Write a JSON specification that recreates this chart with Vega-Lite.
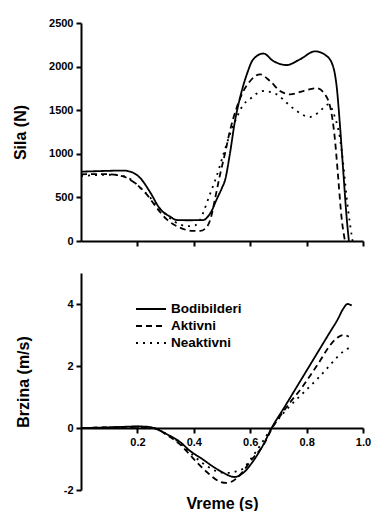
{
  "$schema": "https://vega.github.io/schema/vega-lite/v6.json",
  "padding": {"left": 12, "top": 17, "right": 0, "bottom": 0},
  "spacing": 26,
  "background": "white",
  "config": {
    "view": {"stroke": null},
    "font": "Liberation Sans",
    "axis": {
      "grid": false,
      "labelFont": "Liberation Sans",
      "labelFontWeight": "bold",
      "labelFontSize": 11,
      "labelColor": "black",
      "titleFont": "Liberation Sans",
      "titleFontWeight": "bold",
      "titleFontSize": 16,
      "titleColor": "black",
      "domainColor": "black",
      "domainWidth": 2,
      "tickColor": "black",
      "tickWidth": 2,
      "tickSize": 5,
      "labelPadding": 3,
      "labelFlush": false
    }
  },
  "datasets": {
    "sila": [
      {"vreme": 0, "grupa": "Bodibilderi", "sila": 795},
      {"vreme": 0.05, "grupa": "Bodibilderi", "sila": 800},
      {"vreme": 0.1, "grupa": "Bodibilderi", "sila": 805},
      {"vreme": 0.149, "grupa": "Bodibilderi", "sila": 808},
      {"vreme": 0.175, "grupa": "Bodibilderi", "sila": 795},
      {"vreme": 0.209, "grupa": "Bodibilderi", "sila": 726},
      {"vreme": 0.245, "grupa": "Bodibilderi", "sila": 560},
      {"vreme": 0.28, "grupa": "Bodibilderi", "sila": 370},
      {"vreme": 0.316, "grupa": "Bodibilderi", "sila": 280},
      {"vreme": 0.339, "grupa": "Bodibilderi", "sila": 241},
      {"vreme": 0.38, "grupa": "Bodibilderi", "sila": 238},
      {"vreme": 0.434, "grupa": "Bodibilderi", "sila": 240},
      {"vreme": 0.447, "grupa": "Bodibilderi", "sila": 270},
      {"vreme": 0.463, "grupa": "Bodibilderi", "sila": 344},
      {"vreme": 0.48, "grupa": "Bodibilderi", "sila": 470},
      {"vreme": 0.5, "grupa": "Bodibilderi", "sila": 610},
      {"vreme": 0.511, "grupa": "Bodibilderi", "sila": 700},
      {"vreme": 0.528, "grupa": "Bodibilderi", "sila": 1000},
      {"vreme": 0.546, "grupa": "Bodibilderi", "sila": 1376},
      {"vreme": 0.564, "grupa": "Bodibilderi", "sila": 1644},
      {"vreme": 0.588, "grupa": "Bodibilderi", "sila": 1911},
      {"vreme": 0.611, "grupa": "Bodibilderi", "sila": 2084},
      {"vreme": 0.647, "grupa": "Bodibilderi", "sila": 2150},
      {"vreme": 0.682, "grupa": "Bodibilderi", "sila": 2064},
      {"vreme": 0.729, "grupa": "Bodibilderi", "sila": 2018},
      {"vreme": 0.777, "grupa": "Bodibilderi", "sila": 2084},
      {"vreme": 0.83, "grupa": "Bodibilderi", "sila": 2175},
      {"vreme": 0.871, "grupa": "Bodibilderi", "sila": 2122},
      {"vreme": 0.895, "grupa": "Bodibilderi", "sila": 1990},
      {"vreme": 0.907, "grupa": "Bodibilderi", "sila": 1760},
      {"vreme": 0.918, "grupa": "Bodibilderi", "sila": 1340},
      {"vreme": 0.93, "grupa": "Bodibilderi", "sila": 800},
      {"vreme": 0.942, "grupa": "Bodibilderi", "sila": 270},
      {"vreme": 0.95, "grupa": "Bodibilderi", "sila": 0},
      {"vreme": 0, "grupa": "Aktivni", "sila": 765},
      {"vreme": 0.05, "grupa": "Aktivni", "sila": 768},
      {"vreme": 0.1, "grupa": "Aktivni", "sila": 765},
      {"vreme": 0.15, "grupa": "Aktivni", "sila": 740},
      {"vreme": 0.197, "grupa": "Aktivni", "sila": 650},
      {"vreme": 0.233, "grupa": "Aktivni", "sila": 535},
      {"vreme": 0.268, "grupa": "Aktivni", "sila": 382},
      {"vreme": 0.304, "grupa": "Aktivni", "sila": 248},
      {"vreme": 0.351, "grupa": "Aktivni", "sila": 153},
      {"vreme": 0.398, "grupa": "Aktivni", "sila": 115},
      {"vreme": 0.422, "grupa": "Aktivni", "sila": 115},
      {"vreme": 0.44, "grupa": "Aktivni", "sila": 140},
      {"vreme": 0.46, "grupa": "Aktivni", "sila": 260},
      {"vreme": 0.475, "grupa": "Aktivni", "sila": 480},
      {"vreme": 0.493, "grupa": "Aktivni", "sila": 760},
      {"vreme": 0.511, "grupa": "Aktivni", "sila": 1010},
      {"vreme": 0.528, "grupa": "Aktivni", "sila": 1261},
      {"vreme": 0.552, "grupa": "Aktivni", "sila": 1529},
      {"vreme": 0.576, "grupa": "Aktivni", "sila": 1720},
      {"vreme": 0.6, "grupa": "Aktivni", "sila": 1835},
      {"vreme": 0.635, "grupa": "Aktivni", "sila": 1911},
      {"vreme": 0.67, "grupa": "Aktivni", "sila": 1835},
      {"vreme": 0.706, "grupa": "Aktivni", "sila": 1720},
      {"vreme": 0.741, "grupa": "Aktivni", "sila": 1682},
      {"vreme": 0.788, "grupa": "Aktivni", "sila": 1720},
      {"vreme": 0.836, "grupa": "Aktivni", "sila": 1751},
      {"vreme": 0.865, "grupa": "Aktivni", "sila": 1682},
      {"vreme": 0.889, "grupa": "Aktivni", "sila": 1453},
      {"vreme": 0.901, "grupa": "Aktivni", "sila": 1147},
      {"vreme": 0.912, "grupa": "Aktivni", "sila": 726},
      {"vreme": 0.924, "grupa": "Aktivni", "sila": 268},
      {"vreme": 0.936, "grupa": "Aktivni", "sila": 0},
      {"vreme": 0, "grupa": "Neaktivni", "sila": 745},
      {"vreme": 0.05, "grupa": "Neaktivni", "sila": 755},
      {"vreme": 0.1, "grupa": "Neaktivni", "sila": 760},
      {"vreme": 0.15, "grupa": "Neaktivni", "sila": 745},
      {"vreme": 0.18, "grupa": "Neaktivni", "sila": 700},
      {"vreme": 0.21, "grupa": "Neaktivni", "sila": 610},
      {"vreme": 0.245, "grupa": "Neaktivni", "sila": 500},
      {"vreme": 0.28, "grupa": "Neaktivni", "sila": 370},
      {"vreme": 0.316, "grupa": "Neaktivni", "sila": 260},
      {"vreme": 0.35, "grupa": "Neaktivni", "sila": 190},
      {"vreme": 0.38, "grupa": "Neaktivni", "sila": 170},
      {"vreme": 0.405, "grupa": "Neaktivni", "sila": 180},
      {"vreme": 0.422, "grupa": "Neaktivni", "sila": 240},
      {"vreme": 0.434, "grupa": "Neaktivni", "sila": 330},
      {"vreme": 0.457, "grupa": "Neaktivni", "sila": 535},
      {"vreme": 0.48, "grupa": "Neaktivni", "sila": 735},
      {"vreme": 0.505, "grupa": "Neaktivni", "sila": 994},
      {"vreme": 0.528, "grupa": "Neaktivni", "sila": 1223},
      {"vreme": 0.552, "grupa": "Neaktivni", "sila": 1414},
      {"vreme": 0.575, "grupa": "Neaktivni", "sila": 1560},
      {"vreme": 0.6, "grupa": "Neaktivni", "sila": 1630},
      {"vreme": 0.623, "grupa": "Neaktivni", "sila": 1690},
      {"vreme": 0.647, "grupa": "Neaktivni", "sila": 1720},
      {"vreme": 0.694, "grupa": "Neaktivni", "sila": 1682},
      {"vreme": 0.729, "grupa": "Neaktivni", "sila": 1586},
      {"vreme": 0.765, "grupa": "Neaktivni", "sila": 1490},
      {"vreme": 0.812, "grupa": "Neaktivni", "sila": 1422},
      {"vreme": 0.842, "grupa": "Neaktivni", "sila": 1472},
      {"vreme": 0.877, "grupa": "Neaktivni", "sila": 1567},
      {"vreme": 0.901, "grupa": "Neaktivni", "sila": 1414},
      {"vreme": 0.918, "grupa": "Neaktivni", "sila": 1185},
      {"vreme": 0.93, "grupa": "Neaktivni", "sila": 880},
      {"vreme": 0.942, "grupa": "Neaktivni", "sila": 497},
      {"vreme": 0.954, "grupa": "Neaktivni", "sila": 191},
      {"vreme": 0.963, "grupa": "Neaktivni", "sila": 0}
    ],
    "brzina": [
      {"vreme": 0, "grupa": "Bodibilderi", "brzina": 0},
      {"vreme": 0.1, "grupa": "Bodibilderi", "brzina": 0.02},
      {"vreme": 0.2, "grupa": "Bodibilderi", "brzina": 0.05},
      {"vreme": 0.235, "grupa": "Bodibilderi", "brzina": 0.04},
      {"vreme": 0.257, "grupa": "Bodibilderi", "brzina": 0},
      {"vreme": 0.304, "grupa": "Bodibilderi", "brzina": -0.2},
      {"vreme": 0.351, "grupa": "Bodibilderi", "brzina": -0.45},
      {"vreme": 0.387, "grupa": "Bodibilderi", "brzina": -0.74},
      {"vreme": 0.43, "grupa": "Bodibilderi", "brzina": -1.0},
      {"vreme": 0.469, "grupa": "Bodibilderi", "brzina": -1.25},
      {"vreme": 0.5, "grupa": "Bodibilderi", "brzina": -1.42},
      {"vreme": 0.545, "grupa": "Bodibilderi", "brzina": -1.58},
      {"vreme": 0.575, "grupa": "Bodibilderi", "brzina": -1.45},
      {"vreme": 0.611, "grupa": "Bodibilderi", "brzina": -1.06},
      {"vreme": 0.647, "grupa": "Bodibilderi", "brzina": -0.53},
      {"vreme": 0.676, "grupa": "Bodibilderi", "brzina": 0},
      {"vreme": 0.72, "grupa": "Bodibilderi", "brzina": 0.65},
      {"vreme": 0.76, "grupa": "Bodibilderi", "brzina": 1.25},
      {"vreme": 0.8, "grupa": "Bodibilderi", "brzina": 1.85},
      {"vreme": 0.84, "grupa": "Bodibilderi", "brzina": 2.45},
      {"vreme": 0.88, "grupa": "Bodibilderi", "brzina": 3.05},
      {"vreme": 0.91, "grupa": "Bodibilderi", "brzina": 3.5},
      {"vreme": 0.93, "grupa": "Bodibilderi", "brzina": 3.85},
      {"vreme": 0.945, "grupa": "Bodibilderi", "brzina": 4.0},
      {"vreme": 0.96, "grupa": "Bodibilderi", "brzina": 3.95},
      {"vreme": 0, "grupa": "Aktivni", "brzina": 0},
      {"vreme": 0.1, "grupa": "Aktivni", "brzina": 0.02},
      {"vreme": 0.2, "grupa": "Aktivni", "brzina": 0.04},
      {"vreme": 0.25, "grupa": "Aktivni", "brzina": 0.01},
      {"vreme": 0.27, "grupa": "Aktivni", "brzina": -0.03},
      {"vreme": 0.3, "grupa": "Aktivni", "brzina": -0.2},
      {"vreme": 0.35, "grupa": "Aktivni", "brzina": -0.52},
      {"vreme": 0.38, "grupa": "Aktivni", "brzina": -0.8},
      {"vreme": 0.41, "grupa": "Aktivni", "brzina": -1.1},
      {"vreme": 0.45, "grupa": "Aktivni", "brzina": -1.45},
      {"vreme": 0.49, "grupa": "Aktivni", "brzina": -1.72},
      {"vreme": 0.515, "grupa": "Aktivni", "brzina": -1.77},
      {"vreme": 0.54, "grupa": "Aktivni", "brzina": -1.7},
      {"vreme": 0.57, "grupa": "Aktivni", "brzina": -1.45},
      {"vreme": 0.6, "grupa": "Aktivni", "brzina": -1.08},
      {"vreme": 0.65, "grupa": "Aktivni", "brzina": -0.5},
      {"vreme": 0.678, "grupa": "Aktivni", "brzina": 0},
      {"vreme": 0.7, "grupa": "Aktivni", "brzina": 0.3},
      {"vreme": 0.741, "grupa": "Aktivni", "brzina": 0.82},
      {"vreme": 0.783, "grupa": "Aktivni", "brzina": 1.3},
      {"vreme": 0.812, "grupa": "Aktivni", "brzina": 1.68},
      {"vreme": 0.85, "grupa": "Aktivni", "brzina": 2.2},
      {"vreme": 0.877, "grupa": "Aktivni", "brzina": 2.59},
      {"vreme": 0.91, "grupa": "Aktivni", "brzina": 2.92},
      {"vreme": 0.93, "grupa": "Aktivni", "brzina": 3.0},
      {"vreme": 0.95, "grupa": "Aktivni", "brzina": 2.95},
      {"vreme": 0, "grupa": "Neaktivni", "brzina": 0},
      {"vreme": 0.1, "grupa": "Neaktivni", "brzina": 0.02},
      {"vreme": 0.2, "grupa": "Neaktivni", "brzina": 0.04},
      {"vreme": 0.25, "grupa": "Neaktivni", "brzina": 0.01},
      {"vreme": 0.27, "grupa": "Neaktivni", "brzina": -0.03},
      {"vreme": 0.3, "grupa": "Neaktivni", "brzina": -0.18},
      {"vreme": 0.35, "grupa": "Neaktivni", "brzina": -0.48},
      {"vreme": 0.375, "grupa": "Neaktivni", "brzina": -0.69},
      {"vreme": 0.4, "grupa": "Neaktivni", "brzina": -0.9},
      {"vreme": 0.45, "grupa": "Neaktivni", "brzina": -1.25},
      {"vreme": 0.49, "grupa": "Neaktivni", "brzina": -1.42},
      {"vreme": 0.52, "grupa": "Neaktivni", "brzina": -1.45},
      {"vreme": 0.55, "grupa": "Neaktivni", "brzina": -1.4},
      {"vreme": 0.576, "grupa": "Neaktivni", "brzina": -1.3},
      {"vreme": 0.605, "grupa": "Neaktivni", "brzina": -0.96},
      {"vreme": 0.64, "grupa": "Neaktivni", "brzina": -0.5},
      {"vreme": 0.676, "grupa": "Neaktivni", "brzina": 0},
      {"vreme": 0.71, "grupa": "Neaktivni", "brzina": 0.4},
      {"vreme": 0.741, "grupa": "Neaktivni", "brzina": 0.71},
      {"vreme": 0.79, "grupa": "Neaktivni", "brzina": 1.15},
      {"vreme": 0.84, "grupa": "Neaktivni", "brzina": 1.6},
      {"vreme": 0.88, "grupa": "Neaktivni", "brzina": 2.0},
      {"vreme": 0.91, "grupa": "Neaktivni", "brzina": 2.3},
      {"vreme": 0.935, "grupa": "Neaktivni", "brzina": 2.5},
      {"vreme": 0.955, "grupa": "Neaktivni", "brzina": 2.6}
    ]
  },
  "resolve": {"scale": {"strokeDash": "independent"}, "legend": {"strokeDash": "independent"}},
  "vconcat": [
    {
      "width": 282,
      "height": 218,
      "data": {"name": "sila"},
      "mark": {"type": "line", "color": "black", "strokeWidth": 1.8, "interpolate": "monotone"},
      "encoding": {
        "x": {
          "field": "vreme", "type": "quantitative",
          "scale": {"domain": [0, 1], "nice": false},
          "axis": {"values": [0.2, 0.4, 0.6, 0.8, 1.0], "labels": false, "title": null}
        },
        "y": {
          "field": "sila", "type": "quantitative",
          "scale": {"domain": [0, 2500], "nice": false},
          "axis": {"values": [0, 500, 1000, 1500, 2000, 2500], "format": "d", "title": "Sila (N)", "titlePadding": 20.5}
        },
        "strokeDash": {
          "field": "grupa", "type": "nominal",
          "scale": {"domain": ["Bodibilderi", "Aktivni", "Neaktivni"], "range": [[1, 0], [6, 4], [2, 5]]},
          "legend": null
        }
      }
    },
    {
      "width": 282,
      "height": 217,
      "data": {"name": "brzina"},
      "mark": {"type": "line", "color": "black", "strokeWidth": 1.8, "interpolate": "monotone"},
      "encoding": {
        "x": {
          "field": "vreme", "type": "quantitative",
          "scale": {"domain": [0, 1], "nice": false},
          "axis": {"values": [0.2, 0.4, 0.6, 0.8, 1.0], "format": ".1f", "labelFlush": false, "title": "Vreme (s)", "offset": -62, "titlePadding": 48}
        },
        "y": {
          "field": "brzina", "type": "quantitative",
          "scale": {"domain": [-2, 5], "nice": false},
          "axis": {"values": [-2, 0, 2, 4], "format": "d", "labelExpr": "replace(datum.label, '\u2212', '-')", "title": "Brzina (m/s)", "titlePadding": 31.5}
        },
        "strokeDash": {
          "field": "grupa", "type": "nominal",
          "scale": {"domain": ["Bodibilderi", "Aktivni", "Neaktivni"], "range": [[1, 0], [6, 4], [2, 5]]},
          "legend": {
            "title": null,
            "orient": "none",
            "legendX": 54,
            "legendY": 29,
            "padding": 0,
            "symbolType": "stroke",
            "symbolSize": 900,
            "symbolStrokeColor": "black",
            "symbolStrokeWidth": 2,
            "clipHeight": 14,
            "rowPadding": 3,
            "labelOffset": 4,
            "labelFont": "Liberation Sans",
            "labelFontWeight": "bold",
            "labelFontSize": 13.5,
            "labelColor": "black"
          }
        }
      }
    }
  ]
}
